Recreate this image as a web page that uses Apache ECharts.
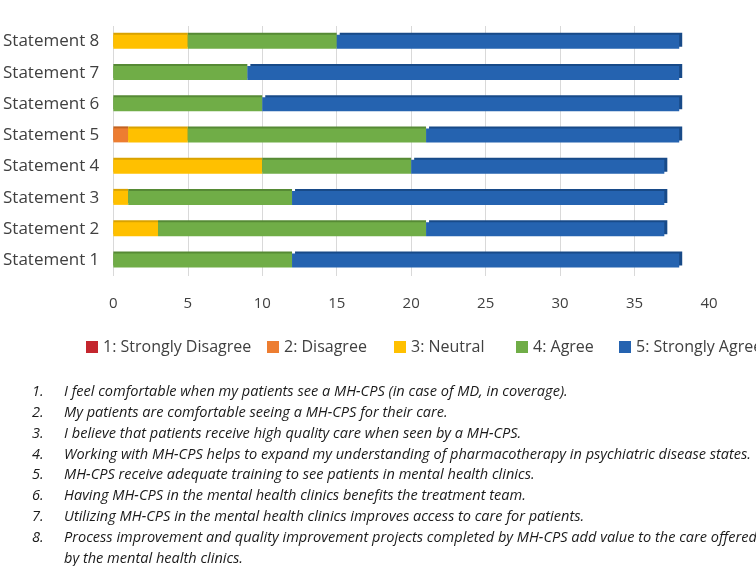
<!DOCTYPE html>
<html lang="en">
<head>
    <meta charset="UTF-8">
    <title>MH-CPS survey</title>
    <script src="https://cdn.jsdelivr.net/npm/echarts@6/dist/echarts.min.js"></script>
    <style>
        html, body { margin: 0; padding: 0; background: #fff; }
        #main { width: 756px; height: 566px; }
    </style>
</head>
<body>
    <div id="main"></div>
    <script>
        // statements, bottom to top
        var categories = ['Statement 1', 'Statement 2', 'Statement 3', 'Statement 4',
            'Statement 5', 'Statement 6', 'Statement 7', 'Statement 8'];

        var stronglyDisagree = [0, 0, 0, 0, 0, 0, 0, 0];
        var disagree = [0, 0, 0, 0, 1, 0, 0, 0];
        var neutral = [0, 3, 1, 10, 4, 0, 0, 5];
        var agree = [12, 18, 11, 10, 16, 10, 9, 10];
        var stronglyAgree = [26, 16, 25, 17, 17, 28, 29, 23];

        var xTicks = [0, 5, 10, 15, 20, 25, 30, 35, 40];

        var notes = [
            'I feel comfortable when my patients see a MH-CPS (in case of MD, in coverage).',
            'My patients are comfortable seeing a MH-CPS for their care.',
            'I believe that patients receive high quality care when seen by a MH-CPS.',
            'Working with MH-CPS helps to expand my understanding of pharmacotherapy in psychiatric disease states.',
            'MH-CPS receive adequate training to see patients in mental health clinics.',
            'Having MH-CPS in the mental health clinics benefits the treatment team.',
            'Utilizing MH-CPS in the mental health clinics improves access to care for patients.',
            'Process improvement and quality improvement projects completed by MH-CPS add value to the care offered',
            'by the mental health clinics.'
        ];

        var fontMain = '"Open Sans", "Liberation Sans", sans-serif';
        var noteFont = 'italic 14.5px "Open Sans", sans-serif';

        var seriesDefs = [
            { name: '1: Strongly Disagree', data: stronglyDisagree, color: '#C4262E', top: '#9a1d23' },
            { name: '2: Disagree', data: disagree, color: '#ED7D31', top: '#c4621f' },
            { name: '3: Neutral', data: neutral, color: '#FFC000', top: '#d9a200' },
            { name: '4: Agree', data: agree, color: '#70AD47', top: '#568a35' },
            { name: '5: Strongly Agree', data: stronglyAgree, color: '#2563B0', top: '#184a88' }
        ];

        var series = seriesDefs.map(function (s, i) {
            var last = i === seriesDefs.length - 1;
            return {
                name: s.name,
                type: 'bar',
                stack: 'total',
                barWidth: 14,
                data: s.data,
                itemStyle: {
                    color: s.color,
                    shadowColor: s.top,
                    shadowBlur: 0,
                    shadowOffsetX: last ? 3 : 0,
                    shadowOffsetY: -2
                }
            };
        });

        // one legend per item so the gaps match the picture
        var legendLeft = [81, 262, 389, 511, 614];
        var legends = seriesDefs.map(function (s, i) {
            return {
                data: [s.name],
                left: legendLeft[i],
                top: 334,
                itemWidth: 12,
                itemHeight: 12,
                itemGap: 0,
                icon: 'rect',
                textStyle: { fontFamily: fontMain, fontSize: 16, color: '#404040' }
            };
        });

        // squeeze the notes to the narrow width of the original font
        var ctx = document.createElement('canvas').getContext('2d');
        ctx.font = noteFont;
        var squeeze = 687 / ctx.measureText(notes[3]).width;

        var graphics = [];
        for (var i = 0; i < notes.length; i++) {
            var y = 392 + i * 20.8;
            if (i < 8) {
                graphics.push({
                    type: 'text', x: 32, y: y, scaleX: squeeze,
                    style: { text: (i + 1) + '.', font: noteFont, fill: '#1a1a1a', verticalAlign: 'middle' }
                });
            }
            graphics.push({
                type: 'text', x: 64, y: y, scaleX: squeeze,
                style: { text: notes[i], font: noteFont, fill: '#1a1a1a', verticalAlign: 'middle' }
            });
        }

        var gridColors = xTicks.map(function (v, i) {
            return i === xTicks.length - 1 ? 'rgba(0,0,0,0)' : '#d9d9d9';
        });

        var chart = echarts.init(document.getElementById('main'));

        chart.setOption({
            backgroundColor: '#fff',
            animation: false,
            grid: { left: 112, right: 47, top: 26, bottom: 290, containLabel: false },
            xAxis: {
                type: 'value',
                min: 0,
                max: 40,
                interval: 5,
                axisLine: { show: false },
                axisTick: { show: false },
                splitLine: { lineStyle: { color: gridColors, width: 1 } },
                axisLabel: {
                    margin: 20,
                    fontFamily: fontMain,
                    fontSize: 15,
                    color: '#404040',
                    formatter: function (v) { return xTicks.indexOf(v) >= 0 ? String(v) : ''; }
                }
            },
            yAxis: {
                type: 'category',
                data: categories,
                axisLine: { show: false },
                axisTick: { show: false },
                axisLabel: { margin: 14, fontFamily: fontMain, fontSize: 17, color: '#404040' }
            },
            legend: legends,
            series: series,
            graphic: graphics
        });
    </script>
</body>
</html>
